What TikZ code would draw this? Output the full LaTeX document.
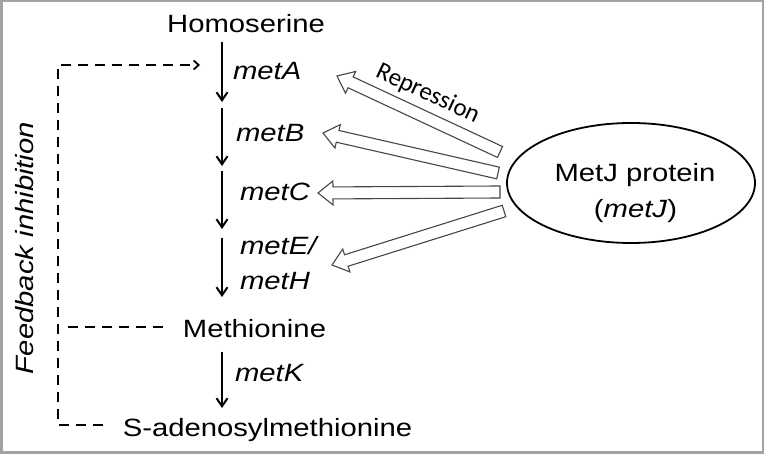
\documentclass[tikz,border=0pt]{standalone}
\usepackage{fontspec}
\setmainfont{Liberation Sans}[FakeStretch=1.17]
\newfontfamily\repfont{Carlito}
\usetikzlibrary{arrows.meta,calc,shapes.geometric}
\definecolor{framegray}{RGB}{163,163,163}
\definecolor{hollowgray}{RGB}{70,70,70}
\newcommand\hollowarrow[2]{%
  \coordinate (hq) at ($(#2)!15pt!(#1)$);
  \draw[hollow] ($(#1)!6pt!90:(#2)$) -- ($(hq)!6pt!-90:(#1)$) -- ($(hq)!12pt!-90:(#1)$)
    -- (#2) -- ($(hq)!12pt!90:(#1)$) -- ($(hq)!6pt!90:(#1)$) -- ($(#1)!6pt!-90:(#2)$) -- cycle;}
\begin{document}
\begin{tikzpicture}[x=1pt,y=-1pt,
  every node/.style={inner sep=0pt,outer sep=0pt},
  lbl/.style={font=\fontsize{25}{30}\selectfont},
  gene/.style={font=\fontsize{25}{30}\selectfont\itshape},
  flow/.style={line width=2pt,-{Straight Barb[length=8pt,width=11pt]}},
  fb/.style={line width=1.8pt,dash pattern=on 10pt off 7pt},
  hollow/.style={draw=hollowgray,line width=1.1pt,fill=white,line join=miter}]
\useasboundingbox (0,0) rectangle (764,454);
\draw[framegray,line width=2.5pt] (1.25,1.25) rectangle (762.75,452.75);

% metabolites
\node[lbl,anchor=base] (homoserine) at (246,33) {Homoserine};
\node[lbl,anchor=base] (methionine) at (254.5,338) {Methionine};
\node[lbl,anchor=base] (sam) at (267.5,437) {S-adenosylmethionine};

% genes
\node[gene,anchor=base west] (metA) at (233,80) {metA};
\node[gene,anchor=base west] (metB) at (236,142) {metB};
\node[gene,anchor=base west] (metC) at (240,201) {metC};
\node[gene,anchor=base west] (metE) at (240,255) {metE/};
\node[gene,anchor=base west] (metH) at (240,290) {metH};
\node[gene,anchor=base west] (metK) at (235,382) {metK};

% pathway arrows
\coordinate (a1s) at (222,42);  \coordinate (a1e) at (222,102);
\coordinate (a2s) at (222,108); \coordinate (a2e) at (222,166);
\coordinate (a3s) at (222,171); \coordinate (a3e) at (222,229);
\coordinate (a4s) at (222,238); \coordinate (a4e) at (222,297);
\coordinate (a5s) at (222,352); \coordinate (a5e) at (222,408);
\draw[flow] (a1s) -- (a1e);
\draw[flow] (a2s) -- (a2e);
\draw[flow] (a3s) -- (a3e);
\draw[flow] (a4s) -- (a4e);
\draw[flow] (a5s) -- (a5e);

% MetJ
\node[draw,ellipse,line width=1.8pt,minimum width=248pt,minimum height=120pt] (metj) at (631,183) {};
\node[lbl,anchor=base] (metjt) at (635,182) {MetJ protein};
\node[lbl,anchor=base] (metjg) at (635.5,218) {(\textit{metJ})};

% repression arrows
\coordinate (t1) at (500,152); \coordinate (h1) at (337,76);
\coordinate (t2) at (498,173); \coordinate (h2) at (323,133);
\coordinate (t3) at (500,192); \coordinate (h3) at (318,193);
\coordinate (t4) at (504,211); \coordinate (h4) at (332,265);
\hollowarrow{t1}{h1}
\hollowarrow{t2}{h2}
\hollowarrow{t3}{h3}
\hollowarrow{t4}{h4}
\node[anchor=base,rotate=-25,font=\repfont\fontsize{25}{30}\selectfont] (rep) at (425,100) {Repression};

% feedback inhibition
\coordinate (fbtip) at (200,65);
\coordinate (fbtl) at (58,65);
\coordinate (fbbl) at (58,425);
\coordinate (fbend) at (103,425);
\coordinate (fbm) at (63,327);
\draw[fb,-{Straight Barb[length=5pt,width=9pt]}] (fbend) -- (fbbl) -- (fbtl) -- (fbtip);
\draw[fb] (163,327) coordinate (fbms) -- (fbm);
\node[anchor=base,rotate=90,font=\fontsize{25}{30}\selectfont\itshape] (fbt) at (33,248) {Feedback inhibition};
\end{tikzpicture}
\end{document}
